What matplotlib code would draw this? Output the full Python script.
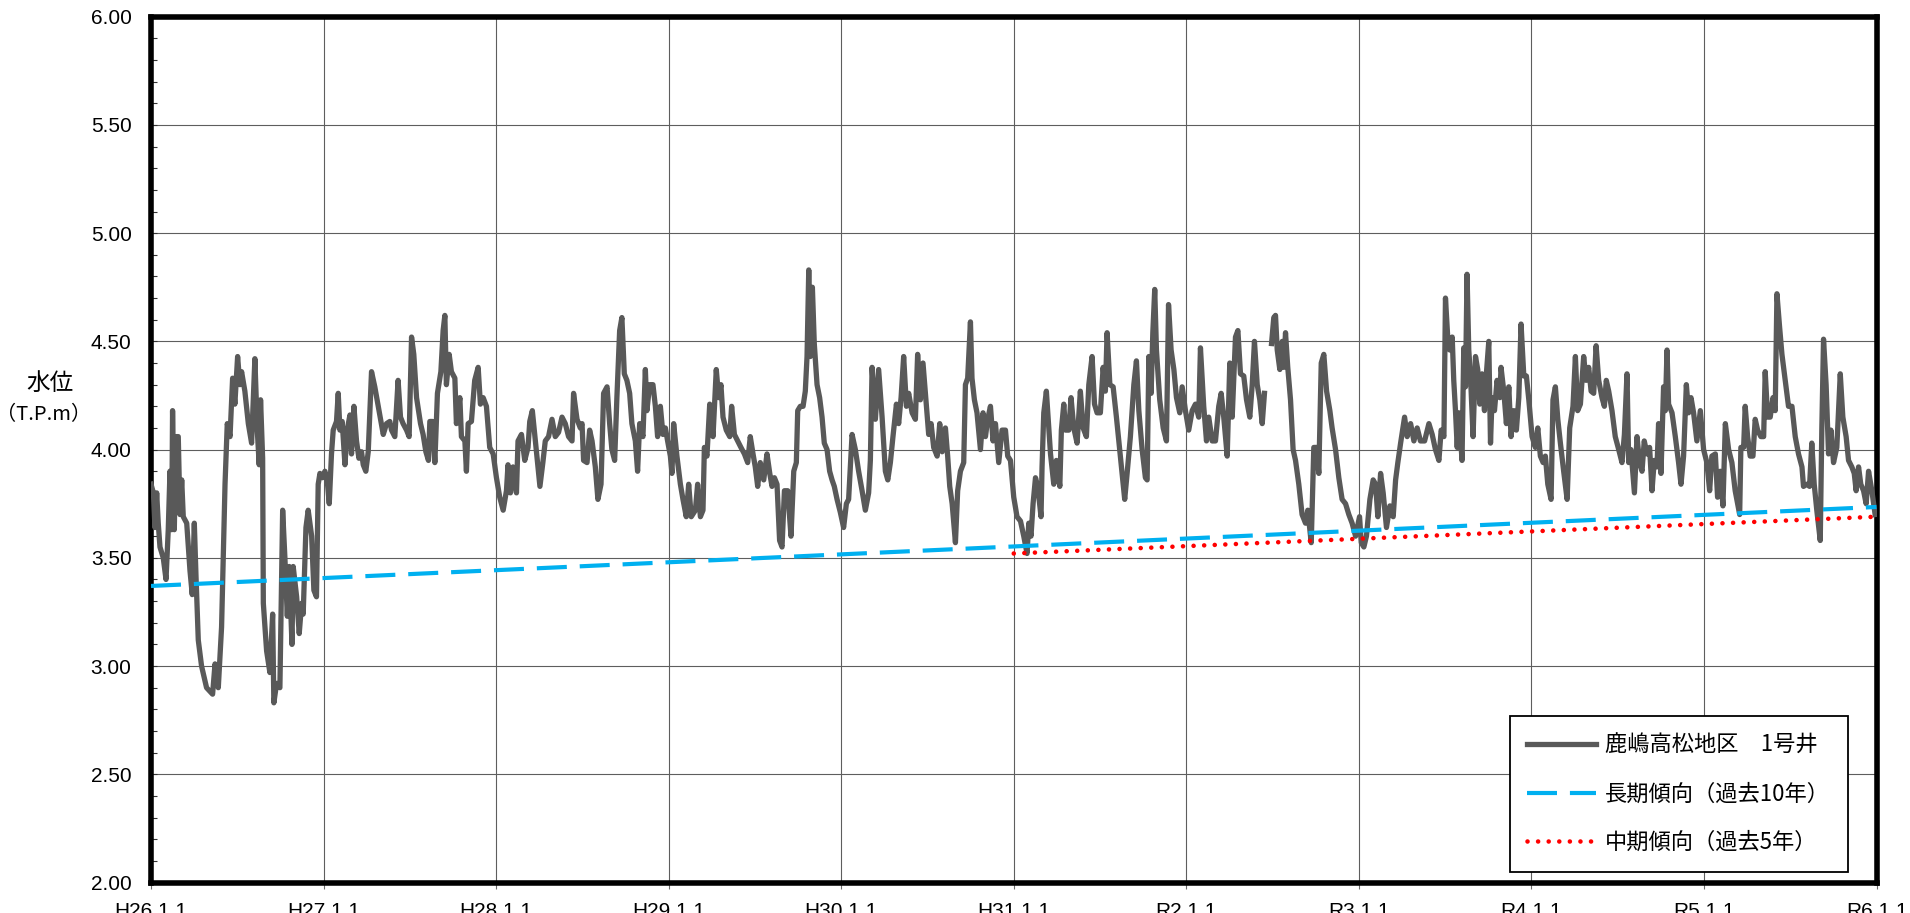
import numpy as np
import matplotlib
matplotlib.use("Agg")
import matplotlib.pyplot as plt
from matplotlib.font_manager import FontProperties
from matplotlib.ticker import MultipleLocator

plt.rcParams['font.family'] = ['Liberation Sans', 'Noto Sans CJK JP', 'DejaVu Sans']

# x axis: year starts (Heisei / Reiwa labels)
years = [2014, 2015, 2016, 2017, 2018, 2019, 2020, 2021, 2022, 2023, 2024]
year_labels = ["H26.1.1", "H27.1.1", "H28.1.1", "H29.1.1", "H30.1.1", "H31.1.1",
               "R2.1.1", "R3.1.1", "R4.1.1", "R5.1.1", "R6.1.1"]

# 鹿嶋高松地区 1号井 : (fraction of year, water level T.P.m)
well_2014 = [(0.000, 3.84), (0.014, 3.80), (0.023, 3.64), (0.033, 3.80), (0.042, 3.66), (0.052, 3.55),
             (0.071, 3.50), (0.087, 3.40), (0.100, 3.63), (0.110, 3.90), (0.120, 3.63), (0.125, 4.18),
             (0.135, 3.63), (0.145, 4.06), (0.158, 4.06), (0.168, 3.70), (0.178, 3.86), (0.187, 3.69),
             (0.207, 3.66), (0.226, 3.44), (0.239, 3.33), (0.251, 3.66), (0.261, 3.41), (0.274, 3.12),
             (0.293, 3.00), (0.322, 2.90), (0.357, 2.87), (0.371, 3.01), (0.390, 2.90), (0.409, 3.18),
             (0.429, 3.84), (0.442, 4.12), (0.458, 4.06), (0.473, 4.33), (0.486, 4.21), (0.502, 4.43),
             (0.515, 4.30), (0.525, 4.36), (0.544, 4.27), (0.564, 4.12), (0.583, 4.03), (0.602, 4.42),
             (0.616, 4.09), (0.627, 3.93), (0.635, 4.23), (0.647, 3.96), (0.651, 3.29), (0.670, 3.07),
             (0.689, 2.97), (0.705, 3.24), (0.712, 2.83), (0.728, 2.92), (0.747, 2.90), (0.763, 3.72),
             (0.776, 3.50), (0.790, 3.23), (0.801, 3.46), (0.817, 3.10), (0.824, 3.46), (0.844, 3.32),
             (0.859, 3.15), (0.873, 3.29), (0.882, 3.24), (0.898, 3.64), (0.911, 3.72), (0.931, 3.60),
             (0.944, 3.35), (0.959, 3.32), (0.969, 3.84), (0.979, 3.89), (0.994, 3.87)]
well_2015 = [(0.008, 3.90), (0.021, 3.86), (0.033, 3.75), (0.046, 3.98), (0.056, 4.09), (0.075, 4.13),
             (0.085, 4.26), (0.095, 4.09), (0.108, 4.13), (0.124, 3.93), (0.137, 4.09), (0.153, 4.16),
             (0.162, 3.98), (0.176, 4.20), (0.191, 4.04), (0.205, 3.96), (0.220, 3.99), (0.230, 3.93),
             (0.245, 3.90), (0.259, 3.99), (0.278, 4.36), (0.297, 4.29), (0.317, 4.20), (0.346, 4.07),
             (0.365, 4.12), (0.384, 4.13), (0.394, 4.09), (0.413, 4.06), (0.432, 4.32), (0.446, 4.15),
             (0.461, 4.12), (0.481, 4.09), (0.496, 4.06), (0.510, 4.52), (0.523, 4.44), (0.539, 4.24),
             (0.562, 4.12), (0.577, 4.07), (0.593, 3.99), (0.608, 3.95), (0.616, 4.13), (0.631, 4.13),
             (0.645, 3.94), (0.660, 4.26), (0.680, 4.36), (0.693, 4.55), (0.703, 4.62), (0.712, 4.30),
             (0.728, 4.44), (0.741, 4.36), (0.761, 4.33), (0.770, 4.12), (0.790, 4.24), (0.799, 4.06),
             (0.819, 4.04), (0.828, 3.90), (0.838, 4.12), (0.857, 4.13), (0.876, 4.32), (0.896, 4.38),
             (0.909, 4.21), (0.925, 4.24), (0.944, 4.20), (0.963, 4.01), (0.983, 3.98)]
well_2016 = [(0.002, 3.87), (0.021, 3.78), (0.041, 3.72), (0.060, 3.81), (0.069, 3.93), (0.083, 3.80),
             (0.098, 3.92), (0.118, 3.80), (0.127, 4.04), (0.147, 4.07), (0.166, 3.95), (0.185, 4.01),
             (0.195, 4.13), (0.210, 4.18), (0.234, 3.99), (0.254, 3.83), (0.271, 3.94), (0.285, 4.04),
             (0.304, 4.06), (0.324, 4.14), (0.343, 4.06), (0.362, 4.08), (0.382, 4.15), (0.401, 4.12),
             (0.420, 4.06), (0.440, 4.04), (0.449, 4.26), (0.469, 4.14), (0.488, 4.10), (0.498, 4.12),
             (0.507, 3.95), (0.527, 3.94), (0.542, 4.09), (0.556, 4.04), (0.575, 3.92), (0.590, 3.77),
             (0.608, 3.84), (0.623, 4.26), (0.643, 4.29), (0.658, 4.12), (0.671, 4.00), (0.687, 3.95),
             (0.700, 4.24), (0.716, 4.55), (0.729, 4.61), (0.743, 4.35), (0.758, 4.32), (0.774, 4.26),
             (0.787, 4.12), (0.807, 4.04), (0.820, 3.90), (0.832, 4.12), (0.851, 4.06), (0.865, 4.37),
             (0.874, 4.18), (0.890, 4.30), (0.909, 4.30), (0.923, 4.20), (0.936, 4.06), (0.952, 4.20),
             (0.967, 4.07), (0.981, 4.10), (0.994, 4.04)]
well_2017 = [(0.010, 3.97), (0.019, 3.89), (0.029, 4.12), (0.048, 3.97), (0.068, 3.84), (0.083, 3.77),
             (0.102, 3.69), (0.116, 3.84), (0.131, 3.69), (0.155, 3.72), (0.168, 3.84), (0.184, 3.69),
             (0.199, 3.72), (0.207, 4.01), (0.222, 3.97), (0.238, 4.21), (0.257, 4.06), (0.276, 4.37),
             (0.290, 4.24), (0.303, 4.30), (0.315, 4.15), (0.334, 4.09), (0.354, 4.06), (0.365, 4.20),
             (0.381, 4.07), (0.400, 4.04), (0.419, 4.01), (0.439, 3.98), (0.458, 3.94), (0.473, 4.06),
             (0.489, 3.98), (0.502, 3.92), (0.516, 3.83), (0.531, 3.94), (0.551, 3.86), (0.570, 3.98),
             (0.586, 3.89), (0.599, 3.83), (0.613, 3.87), (0.628, 3.84), (0.643, 3.58), (0.657, 3.55),
             (0.671, 3.81), (0.690, 3.81), (0.709, 3.60), (0.725, 3.90), (0.740, 3.94), (0.748, 4.18),
             (0.763, 4.20), (0.779, 4.20), (0.792, 4.27), (0.802, 4.43), (0.812, 4.83), (0.821, 4.43),
             (0.833, 4.75), (0.844, 4.49), (0.860, 4.30), (0.875, 4.24), (0.889, 4.15), (0.902, 4.03),
             (0.918, 4.00), (0.933, 3.90), (0.947, 3.86), (0.960, 3.83), (0.976, 3.77), (0.995, 3.71)]
well_2018 = [(0.014, 3.64), (0.030, 3.75), (0.043, 3.77), (0.063, 4.07), (0.082, 4.00), (0.101, 3.90),
             (0.121, 3.81), (0.140, 3.72), (0.159, 3.80), (0.169, 3.95), (0.179, 4.38), (0.198, 4.14),
             (0.217, 4.37), (0.237, 4.15), (0.256, 3.90), (0.270, 3.86), (0.285, 3.94), (0.300, 4.06),
             (0.320, 4.21), (0.333, 4.12), (0.347, 4.24), (0.362, 4.43), (0.378, 4.20), (0.391, 4.26),
             (0.411, 4.17), (0.430, 4.14), (0.443, 4.44), (0.459, 4.23), (0.474, 4.40), (0.494, 4.20),
             (0.507, 4.07), (0.521, 4.12), (0.536, 4.01), (0.556, 3.97), (0.571, 4.12), (0.585, 3.99),
             (0.604, 4.10), (0.617, 3.97), (0.629, 3.83), (0.643, 3.75), (0.662, 3.57), (0.675, 3.81),
             (0.691, 3.90), (0.710, 3.94), (0.720, 4.30), (0.733, 4.33), (0.749, 4.59), (0.758, 4.33),
             (0.772, 4.23), (0.787, 4.17), (0.807, 4.00), (0.822, 4.17), (0.836, 4.06), (0.849, 4.14),
             (0.865, 4.20), (0.880, 4.04), (0.894, 4.12), (0.913, 3.94), (0.932, 4.09), (0.952, 4.09),
             (0.965, 3.97), (0.981, 3.95)]
well_2019 = [(0.000, 3.78), (0.019, 3.69), (0.039, 3.67), (0.058, 3.60), (0.077, 3.52), (0.087, 3.66),
             (0.100, 3.60), (0.112, 3.75), (0.126, 3.87), (0.139, 3.83), (0.158, 3.69), (0.164, 3.92),
             (0.174, 4.17), (0.189, 4.27), (0.203, 4.10), (0.213, 3.98), (0.232, 3.84), (0.247, 3.95),
             (0.267, 3.83), (0.276, 4.09), (0.290, 4.21), (0.300, 4.09), (0.319, 4.09), (0.332, 4.24),
             (0.348, 4.10), (0.367, 4.03), (0.386, 4.27), (0.402, 4.10), (0.421, 4.06), (0.435, 4.30),
             (0.454, 4.43), (0.468, 4.21), (0.483, 4.17), (0.502, 4.17), (0.518, 4.38), (0.531, 4.27),
             (0.541, 4.54), (0.557, 4.30), (0.576, 4.29), (0.595, 4.15), (0.614, 4.00), (0.630, 3.87),
             (0.643, 3.77), (0.657, 3.89), (0.676, 4.06), (0.696, 4.30), (0.711, 4.41), (0.725, 4.18),
             (0.744, 4.00), (0.763, 3.87), (0.773, 3.86), (0.783, 4.43), (0.796, 4.26), (0.806, 4.54),
             (0.817, 4.74), (0.827, 4.46), (0.846, 4.23), (0.866, 4.10), (0.885, 4.04), (0.897, 4.67),
             (0.912, 4.46), (0.928, 4.37), (0.943, 4.24), (0.962, 4.17), (0.976, 4.29), (0.995, 4.18)]
# a short run of missing readings in mid 2020
well_2020 = [(0.014, 4.09), (0.034, 4.18), (0.053, 4.21), (0.072, 4.15), (0.082, 4.47), (0.101, 4.20),
             (0.117, 4.04), (0.130, 4.15), (0.150, 4.04), (0.169, 4.04), (0.188, 4.20), (0.202, 4.26),
             (0.217, 4.15), (0.237, 3.97), (0.252, 4.40), (0.266, 4.15), (0.285, 4.52), (0.299, 4.55),
             (0.314, 4.35), (0.333, 4.34), (0.349, 4.23), (0.368, 4.15), (0.382, 4.30), (0.395, 4.50),
             (0.411, 4.30), (0.426, 4.23), (0.440, 4.12), (0.453, 4.26), (0.470, np.nan), (0.494, 4.49),
             (0.507, 4.61), (0.517, 4.62), (0.527, 4.46), (0.542, 4.37), (0.556, 4.50), (0.565, 4.38),
             (0.575, 4.54), (0.588, 4.38), (0.604, 4.23), (0.619, 4.00), (0.633, 3.95), (0.652, 3.84),
             (0.671, 3.70), (0.691, 3.66), (0.704, 3.72), (0.724, 3.57), (0.739, 4.01), (0.755, 4.01),
             (0.768, 3.89), (0.782, 4.40), (0.797, 4.44), (0.813, 4.27), (0.832, 4.18), (0.845, 4.10),
             (0.865, 4.00), (0.884, 3.87), (0.903, 3.77), (0.923, 3.75), (0.942, 3.70), (0.961, 3.66),
             (0.981, 3.60)]
well_2021 = [(0.004, 3.69), (0.014, 3.57), (0.029, 3.55), (0.044, 3.60), (0.064, 3.77), (0.083, 3.86),
             (0.097, 3.84), (0.110, 3.69), (0.126, 3.89), (0.141, 3.80), (0.160, 3.64), (0.180, 3.74),
             (0.199, 3.69), (0.213, 3.86), (0.226, 3.94), (0.242, 4.03), (0.265, 4.15), (0.280, 4.06),
             (0.300, 4.12), (0.319, 4.04), (0.338, 4.10), (0.357, 4.04), (0.381, 4.04), (0.406, 4.12),
             (0.425, 4.07), (0.444, 4.00), (0.464, 3.95), (0.477, 4.09), (0.493, 4.06), (0.502, 4.70),
             (0.515, 4.52), (0.527, 4.46), (0.541, 4.52), (0.550, 4.32), (0.560, 4.18), (0.570, 4.01),
             (0.579, 4.17), (0.589, 4.06), (0.598, 3.95), (0.608, 4.47), (0.618, 4.29), (0.627, 4.81),
             (0.637, 4.46), (0.647, 4.34), (0.662, 4.06), (0.676, 4.43), (0.689, 4.37), (0.701, 4.21),
             (0.714, 4.35), (0.728, 4.18), (0.739, 4.35), (0.753, 4.50), (0.763, 4.03), (0.772, 4.24),
             (0.786, 4.18), (0.801, 4.32), (0.817, 4.24), (0.824, 4.38), (0.840, 4.27), (0.855, 4.12),
             (0.869, 4.29), (0.882, 4.06), (0.898, 4.18), (0.913, 4.09), (0.927, 4.24), (0.940, 4.58),
             (0.956, 4.34), (0.971, 4.34), (0.985, 4.23)]
well_2022 = [(0.004, 4.06), (0.023, 4.01), (0.037, 4.10), (0.052, 3.97), (0.068, 3.94), (0.081, 3.97),
             (0.095, 3.84), (0.114, 3.77), (0.125, 4.23), (0.139, 4.29), (0.153, 4.14), (0.168, 4.03),
             (0.187, 3.90), (0.207, 3.77), (0.222, 4.10), (0.241, 4.20), (0.255, 4.43), (0.268, 4.18),
             (0.284, 4.21), (0.303, 4.43), (0.317, 4.32), (0.332, 4.38), (0.346, 4.27), (0.361, 4.26),
             (0.375, 4.48), (0.390, 4.32), (0.409, 4.24), (0.423, 4.20), (0.434, 4.32), (0.448, 4.27),
             (0.467, 4.18), (0.486, 4.06), (0.506, 4.00), (0.525, 3.94), (0.539, 4.07), (0.554, 4.35),
             (0.564, 3.94), (0.577, 4.00), (0.597, 3.80), (0.612, 4.06), (0.627, 3.94), (0.641, 3.90),
             (0.654, 4.04), (0.670, 3.98), (0.685, 4.01), (0.699, 3.81), (0.712, 3.95), (0.728, 3.92),
             (0.737, 4.12), (0.751, 3.89), (0.766, 4.29), (0.776, 4.18), (0.786, 4.46), (0.795, 4.21),
             (0.815, 4.17), (0.834, 4.06), (0.853, 3.94), (0.867, 3.84), (0.882, 3.97), (0.898, 4.30),
             (0.911, 4.17), (0.925, 4.24), (0.940, 4.17), (0.959, 4.04), (0.979, 4.18), (0.998, 4.00)]
well_2023 = [(0.017, 3.94), (0.033, 3.81), (0.046, 3.97), (0.066, 3.98), (0.079, 3.78), (0.095, 3.90),
             (0.110, 3.74), (0.124, 4.12), (0.143, 4.00), (0.162, 3.94), (0.181, 3.81), (0.207, 3.70),
             (0.214, 4.01), (0.230, 4.01), (0.239, 4.20), (0.253, 4.06), (0.268, 3.97), (0.284, 3.97),
             (0.297, 4.14), (0.311, 4.09), (0.330, 4.06), (0.346, 4.06), (0.355, 4.36), (0.369, 4.15),
             (0.384, 4.15), (0.400, 4.24), (0.413, 4.18), (0.423, 4.72), (0.438, 4.57), (0.452, 4.44),
             (0.471, 4.32), (0.490, 4.20), (0.510, 4.20), (0.529, 4.06), (0.548, 3.98), (0.568, 3.92),
             (0.577, 3.83), (0.597, 3.84), (0.612, 3.83), (0.625, 4.03), (0.639, 3.84), (0.654, 3.72),
             (0.674, 3.58), (0.683, 4.09), (0.693, 4.51), (0.708, 4.30), (0.722, 3.98), (0.736, 4.09),
             (0.751, 3.94), (0.770, 4.01), (0.790, 4.35), (0.805, 4.15), (0.824, 4.06), (0.838, 3.95),
             (0.857, 3.92), (0.871, 3.89), (0.882, 3.81), (0.896, 3.92), (0.909, 3.84), (0.925, 3.81),
             (0.940, 3.75), (0.954, 3.90), (0.973, 3.81), (0.992, 3.70)]

# trend lines (end points)
long_t = [2014.0, 2024.0]
long_level = [3.37, 3.735]
mid_t = [2019.0, 2024.0]
mid_level = [3.52, 3.69]

well_by_year = [well_2014, well_2015, well_2016, well_2017, well_2018,
                well_2019, well_2020, well_2021, well_2022, well_2023]
well_t = [y + f for y, rows in zip(years, well_by_year) for f, _ in rows]
well_level = [v for rows in well_by_year for _, v in rows]

W, H = 1910, 913
fig = plt.figure(figsize=(W / 100, H / 100), dpi=100)
ax = fig.add_axes([151 / W, 1 - 882.5 / H, (1876.5 - 151) / W, (882.5 - 16.7) / H])

ax.plot(well_t, well_level, color="#595959", lw=3.8, solid_joinstyle="round",
        label="鹿嶋高松地区　1号井", zorder=3)
ax.plot(long_t, long_level, color="#00B0F0", lw=3.0, dashes=(7.2, 3.1),
        dash_capstyle="butt", label="長期傾向（過去10年）", zorder=4)
ax.plot(mid_t, mid_level, color="#FF0000", lw=3.3, linestyle=(0, (0.01, 2.3)),
        dash_capstyle="round", label="中期傾向（過去5年）", zorder=5)

ax.set_xlim(years[0], years[-1])
ax.set_ylim(2.0, 6.0)
ax.set_xticks(years, year_labels)
ax.yaxis.set_major_locator(MultipleLocator(0.5))
ax.yaxis.set_minor_locator(MultipleLocator(0.1))
ax.yaxis.set_major_formatter(plt.FormatStrFormatter("%.2f"))

ax.grid(which="major", color="#5e5e5e", linewidth=0.8, zorder=0)
ax.set_axisbelow(True)
for s in ax.spines.values():
    s.set_linewidth(4)
    s.set_color("black")

ax.tick_params(axis="y", which="both", direction="in", labelsize=15, pad=14,
               length=4, width=0.8, color="#333333")
ax.tick_params(axis="x", which="major", direction="out", labelsize=15, pad=10,
               length=4, width=0.8, color="#6e6e6e")

jp = "Noto Sans CJK JP"
fig.text(50 / W, 1 - 383 / H, "水位", family=[jp], fontsize=17, ha="center", va="center")
fig.text(44 / W, 1 - 415 / H, "（T.P.m）", family=[jp], fontsize=14.5, ha="center", va="center")

leg = ax.legend(loc="lower right", bbox_to_anchor=(1848 / W, 1 - 872 / H),
                bbox_transform=fig.transFigure, frameon=True, fancybox=False,
                framealpha=1, edgecolor="black", prop=FontProperties(family=jp, size=16),
                handlelength=3.1, handletextpad=0.4, labelspacing=1.15, borderpad=0.8,
                borderaxespad=0)
leg.get_frame().set_linewidth(1.3)

fig.savefig("out.png", dpi=100)
